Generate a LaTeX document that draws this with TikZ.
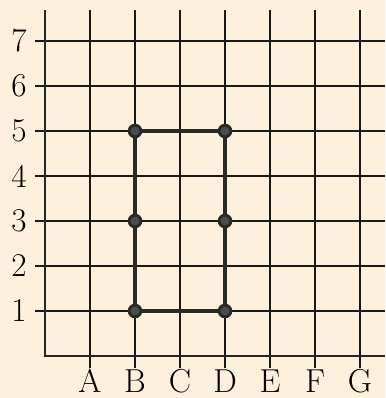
\documentclass[tikz,border=0pt]{standalone}
\usepackage{tikz}
\usetikzlibrary{positioning}
\definecolor{paper}{RGB}{253,240,221}
\definecolor{pencil}{RGB}{40,42,36}

\begin{document}
\begin{tikzpicture}[
gridline/.style={line width=1.1pt, black!90},
axisline/.style={line width=1.3pt, black!85},
lbl/.style={font=\fontsize{21}{25}\selectfont, inner sep=0pt},
dot/.style={circle, draw=pencil, line width=1.8pt, fill=black!70, minimum size=0.26cm, inner sep=0pt},
side/.style={pencil, line width=2.2pt, line cap=round}
]
\fill[paper] (-1,-0.933) rectangle (7.556,7.911);
\useasboundingbox (-1,-0.933) rectangle (7.556,7.911);

% grid rows and columns
\foreach \r in {1,...,7}
  \draw[gridline] (-0.22,\r) -- (7.556,\r);
\foreach \c in {1,...,7}
  \draw[gridline] (\c,-0.27) -- (\c,7.69);
\draw[axisline] (0,7.69) -- (0,0) -- (7.556,0);

% labels
\foreach \r in {1,...,7}
  \node[lbl] (row\r) at (-0.58,\r) {\r};
\foreach \l [count=\c] in {A,B,C,D,E,F,G}
  \node[lbl, anchor=base] (col\l) at (\c,-0.82) {\l};

% the rectangle
\node[dot] (b1) at (2,1) {};
\node[dot] (b3) at (2,3) {};
\node[dot] (b5) at (2,5) {};
\node[dot] (d1) at (4,1) {};
\node[dot] (d3) at (4,3) {};
\node[dot] (d5) at (4,5) {};
\draw[side] (b5) -- (d5);
\draw[side] (d5) -- (d3);
\draw[side] (d3) -- (d1);
\draw[side] (d1) -- (b1);
\draw[side] (b1) -- (b3);
\draw[side] (b3) -- (b5);
\end{tikzpicture}
\end{document}
